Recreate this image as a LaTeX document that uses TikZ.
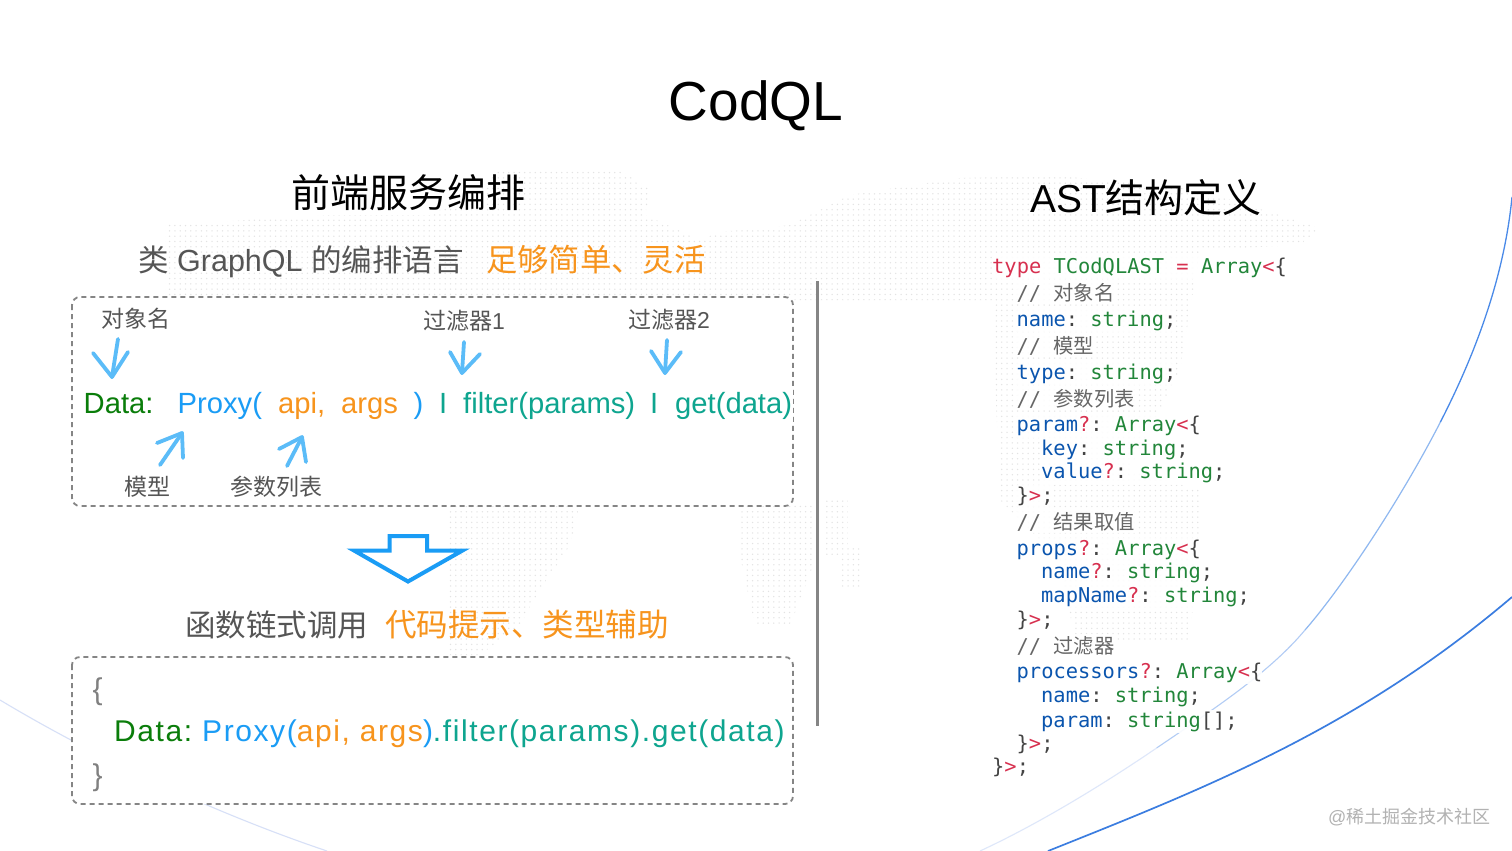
\documentclass[tikz,border=0pt]{standalone}
\usepackage{fontspec}
\usetikzlibrary{patterns.meta}
\setmainfont{Liberation Sans}
\newfontfamily\cjk{Noto Sans CJK SC}
\newfontfamily\cmono{DejaVu Sans Mono}
\newfontfamily\spaced[LetterSpace=5.3]{Liberation Sans}
\frenchspacing
\newcommand{\fsz}[1]{\fontsize{#1}{#1}\selectfont}
\definecolor{cgreen}{HTML}{0A7D0A}
\definecolor{cblue}{HTML}{1A9CF5}
\definecolor{corange}{HTML}{F7941D}
\definecolor{cteal}{HTML}{0EA58F}
\definecolor{cgray}{HTML}{555555}
\definecolor{ckw}{HTML}{D7304F}
\definecolor{cty}{HTML}{22863A}
\definecolor{cpr}{HTML}{0B55AE}
\definecolor{cpu}{HTML}{444444}
\definecolor{ccm}{HTML}{666666}
\definecolor{cskt}{HTML}{5BBCF8}
\definecolor{cthick}{HTML}{3B7DE0}
\definecolor{cthinA}{HTML}{DEE7FA}
\definecolor{cthinB}{HTML}{B2CCF5}
\definecolor{cthinC}{HTML}{8FB8F0}
\definecolor{cthinD}{HTML}{4A8AE8}
\definecolor{cthinL}{HTML}{D7E0F7}
\newcommand{\kw}[1]{\textcolor{ckw}{#1}}
\newcommand{\ty}[1]{\textcolor{cty}{#1}}
\newcommand{\pr}[1]{\textcolor{cpr}{#1}}
\newcommand{\pu}[1]{\textcolor{cpu}{#1}}
\newcommand{\cmt}[1]{\textcolor{ccm}{// {\cjk\fsz{20.3}#1}}}
\tikzset{
  txt/.style={inner sep=0pt,anchor=base west},
  ctr/.style={inner sep=0pt,anchor=base},
  codeln/.style={anchor=base west,inner xsep=0pt,inner ysep=2pt,fill=white,fill opacity=.9,text opacity=1,font=\cmono\fsz{20.4}},
  dashbox/.style={draw=black!48,line width=1.8pt,dash pattern=on 5pt off 4pt,rounded corners=8pt,fill=white},
  sketch/.style={draw=cskt,line width=3.8pt,line cap=round,line join=round},
  dotsbg/.style={pattern={Dots[radius=.75pt,distance=5.3pt]},pattern color=black!11},
}
\newcommand{\skarrow}[5]{%
  \coordinate (#1s) at (#2); \coordinate (#1t) at (#3);
  \coordinate (#1l) at (#4); \coordinate (#1r) at (#5);
  \draw[sketch] (#1s) -- (#1t);
  \draw[sketch] (#1l) -- (#1t) -- (#1r);
}
\begin{document}
\begin{tikzpicture}[x=1pt,y=-1pt]
\useasboundingbox (0,0) rectangle (1512,851);
\fill[white] (0,0) rectangle (1512,851);

% world map dots
\fill[dotsbg] (165,225) -- (330,215) -- (430,215) -- (470,195) -- (500,170) -- (620,170) -- (650,190) -- (645,215) -- (700,240) -- (720,232) -- (790,225) -- (850,195) -- (960,178) -- (1060,176) -- (1200,190) -- (1320,228) -- (1300,245) -- (1200,250) -- (1180,370) -- (1130,470) -- (1200,490) -- (1200,520) -- (1190,640) -- (1075,640) -- (1060,560) -- (1000,500) -- (992,300) -- (165,300) -- cycle;
\fill[dotsbg] (447,505) -- (580,505) -- (570,545) -- (540,590) -- (520,625) -- (480,655) -- (447,655) -- cycle;
\fill[dotsbg] (738,505) -- (815,505) -- (815,560) -- (800,600) -- (790,625) -- (755,625) -- (745,580) -- (738,545) -- cycle;
\fill[dotsbg] (825,500) -- (848,500) -- (848,545) -- (862,545) -- (862,590) -- (840,590) -- (840,555) -- (825,555) -- cycle;

% background curves
\coordinate (ca) at (1048,851); \coordinate (cb) at (1512,597);
\draw[draw=cthick,line width=1.7pt] (ca) .. controls (1203,789) and (1357,729) .. (cb);
\coordinate (ta) at (980,851); \coordinate (tb) at (1156.6,748); \coordinate (tc) at (1305,630); \coordinate (te) at (1440.4,422); \coordinate (td) at (1512,197);
\draw[draw=cthinA,line width=1.1pt] (ta) .. controls (1035,825.5) and (1097.5,788.25) .. (tb);
\draw[draw=cthinB,line width=1.1pt] (tb) .. controls (1215.75,707.75) and (1270,672) .. (tc);
\draw[draw=cthinC,line width=1.2pt] (tc) .. controls (1345,584) and (1403,495) .. (te);
\draw[draw=cthinD,line width=1.3pt] (te) .. controls (1477.75,349.25) and (1504.5,273.5) .. (td);
\coordinate (la) at (0,700); \coordinate (lb) at (327,851);
\draw[draw=cthinL,line width=1.1pt] (la) .. controls (100,760) and (220,815) .. (lb);

% titles
\node[ctr] (title) at (756,120) {\fsz{55}CodQL};
\node[ctr] (hleft) at (408,207) {\cjk\fsz{39}前端服务编排};
\node[ctr] (hright) at (1146,212) {\fsz{39}AST{\cjk 结构定义}};
\node[txt,text=cgray] (sub1) at (138,271) {\fsz{30.5}{\cjk 类} GraphQL {\cjk 的编排语言}};
\node[txt,text=corange] (sub2) at (486,271) {\cjk\fsz{31.3}足够简单、灵活};

% boxes
\draw[dashbox] (72,297) rectangle (793,506);
\draw[dashbox] (72,657) rectangle (793,804);
\draw[draw=black!48,line width=2.2pt] (817.5,281) coordinate (va) -- (817.5,726) coordinate (vb);

% labels
\node[ctr,text=cgray] (l1) at (136,327.5) {\cjk\fsz{23}对象名};
\node[ctr,text=cgray] (l2) at (464,329) {{\cjk\fsz{23}过滤器}\fsz{23}1};
\node[ctr,text=cgray] (l3) at (669,328) {{\cjk\fsz{23}过滤器}\fsz{23}2};
\node[ctr,text=cgray] (l4) at (147,495) {\cjk\fsz{23}模型};
\node[ctr,text=cgray] (l5) at (276.5,495) {\cjk\fsz{23}参数列表};

% DSL line
\node[txt,text=cgreen] (t1) at (83.5,413) {\fsz{29.2}Data:};
\node[txt,text=cblue] (t2) at (177.5,413) {\fsz{29.2}Proxy(};
\node[txt,text=corange] (t3) at (278,413) {\fsz{29.2}api,};
\node[txt,text=corange] (t4) at (341,413) {\fsz{29.2}args};
\node[txt,text=cblue] (t5) at (413.5,413) {\fsz{29.2})};
\node[txt,text=cteal] (t6) at (439,413) {\fsz{29.2}I};
\node[txt,text=cteal] (t7) at (463,413) {\fsz{29.2}filter(params)};
\node[txt,text=cteal] (t8) at (650,413) {\fsz{29.2}I};
\node[anchor=base west,inner xsep=1pt,inner ysep=3pt,fill=white,text=cteal] (t9) at (674,413) {\fsz{29.2}get(data)};

% sketch arrows
\skarrow{a}{118,339}{112,377}{93,353}{128,352}
\skarrow{b}{160,465}{182,433}{157,443}{183,458}
\skarrow{c}{287,466}{302,437}{279,449}{306,462}
\skarrow{d}{464,342}{462,373}{450,352}{480,354}
\skarrow{e}{667,340}{665,373}{651,351}{681,352}

% big arrow
\draw[draw=cblue,line width=4pt,fill=white,miter limit=10] (354,550.5) -- (389.5,550.5) -- (389.5,536) -- (427,536) -- (427,550.5) -- (462.5,550.5) -- (408,581.5) -- cycle;

% second heading
\node[txt,text=cgray] (sub3) at (185,636) {\cjk\fsz{30.5}函数链式调用};
\node[txt,text=corange] (sub4) at (385,636) {\cjk\fsz{31.5}代码提示、类型辅助};

% chain call
\node[txt,text=black!50] (bl) at (92.5,699) {\fsz{30}\{};
\node[txt,text=black!50] (br) at (92.5,785) {\fsz{30}\}};
\node[txt] (chain) at (114,741.5) {\spaced\fsz{30}\textcolor{cgreen}{Data:} \textcolor{cblue}{Proxy(}\textcolor{corange}{api, args}\textcolor{cblue}{)}\textcolor{cteal}{.filter(params).get(data)}};

% code
\node[codeln] (c01) at (992,273) {\kw{type} \ty{TCodQLAST} \kw{=} \ty{Array}\kw{<}\pu{\{}};
\node[codeln] (c02) at (1016.5,300) {\cmt{对象名}};
\node[codeln] (c03) at (1016.5,326) {\pr{name}\pu{:} \ty{string}\pu{;}};
\node[codeln] (c04) at (1016.5,353) {\cmt{模型}};
\node[codeln] (c05) at (1016.5,379) {\pr{type}\pu{:} \ty{string}\pu{;}};
\node[codeln] (c06) at (1016.5,406) {\cmt{参数列表}};
\node[codeln] (c07) at (1016.5,431.5) {\pr{param}\kw{?}\pu{:} \ty{Array}\kw{<}\pu{\{}};
\node[codeln] (c08) at (1041,455) {\pr{key}\pu{:} \ty{string}\pu{;}};
\node[codeln] (c09) at (1041,478.5) {\pr{value}\kw{?}\pu{:} \ty{string}\pu{;}};
\node[codeln] (c10) at (1016.5,502) {\pu{\}}\kw{>}\pu{;}};
\node[codeln] (c11) at (1016.5,529) {\cmt{结果取值}};
\node[codeln] (c12) at (1016.5,555) {\pr{props}\kw{?}\pu{:} \ty{Array}\kw{<}\pu{\{}};
\node[codeln] (c13) at (1041,578) {\pr{name}\kw{?}\pu{:} \ty{string}\pu{;}};
\node[codeln] (c14) at (1041,602) {\pr{mapName}\kw{?}\pu{:} \ty{string}\pu{;}};
\node[codeln] (c15) at (1016.5,626) {\pu{\}}\kw{>}\pu{;}};
\node[codeln] (c16) at (1016.5,653) {\cmt{过滤器}};
\node[codeln] (c17) at (1016.5,678) {\pr{processors}\kw{?}\pu{:} \ty{Array}\kw{<}\pu{\{}};
\node[codeln] (c18) at (1041,702) {\pr{name}\pu{:} \ty{string}\pu{;}};
\node[codeln] (c19) at (1041,727) {\pr{param}\pu{:} \ty{string}\pu{[];}};
\node[codeln] (c20) at (1016.5,750) {\pu{\}}\kw{>}\pu{;}};
\node[codeln] (c21) at (992,773.5) {\pu{\}}\kw{>}\pu{;}};

% watermark
\node[txt,text=black!30] (wm) at (1328,823) {\fsz{18}@{\cjk 稀土掘金技术社区}};
\end{tikzpicture}
\end{document}
